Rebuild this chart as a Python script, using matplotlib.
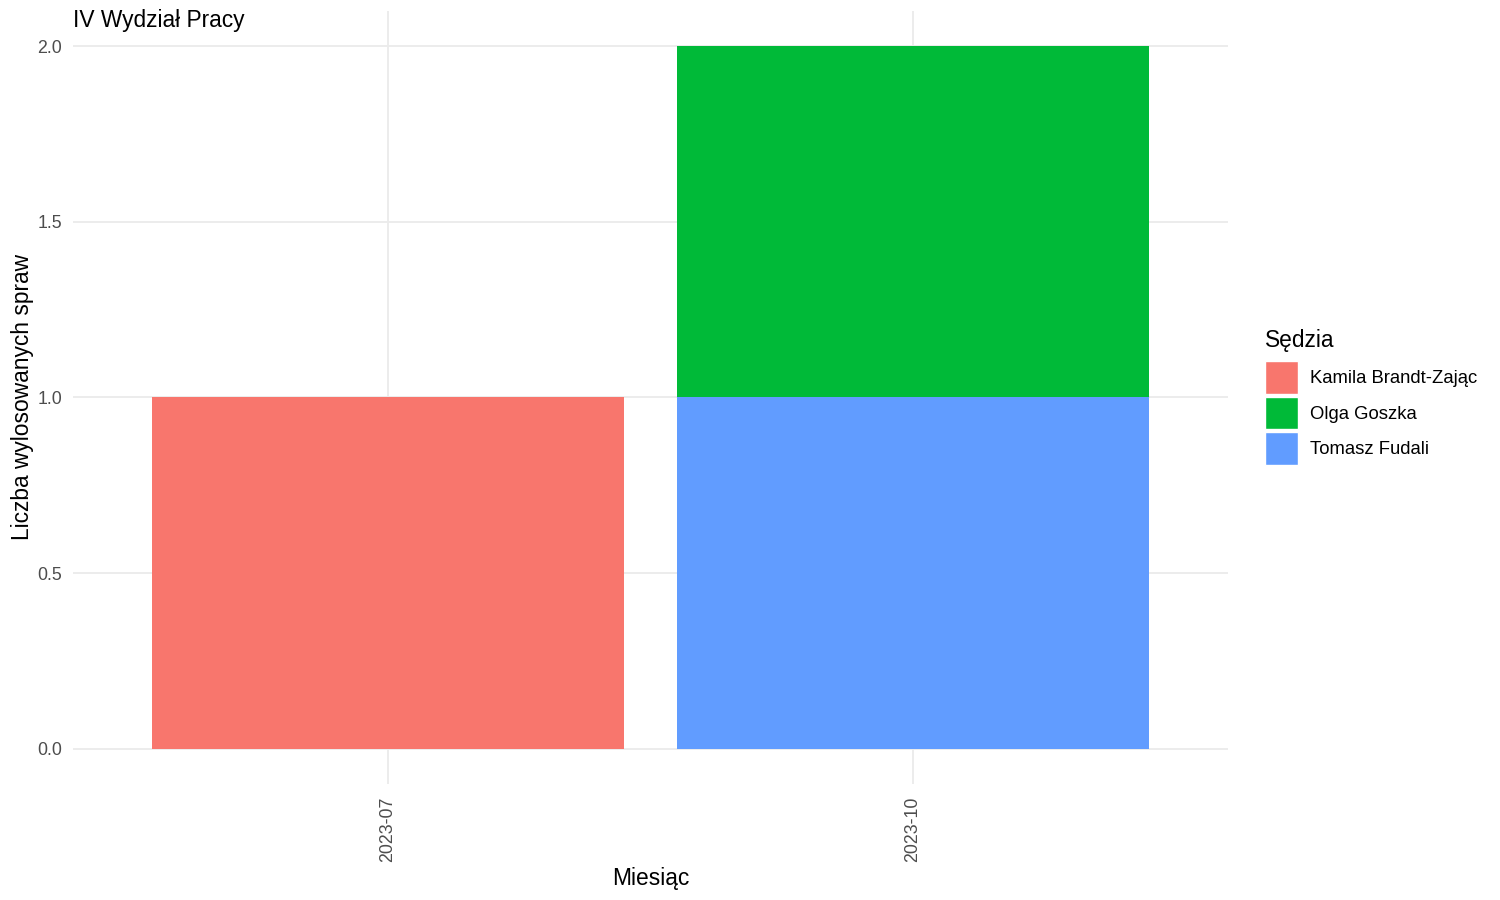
import matplotlib.pyplot as plt
from matplotlib.patches import Patch

plt.rcParams['font.family'] = ['Liberation Sans', 'DejaVu Sans']

months = ["2023-07", "2023-10"]
judges = ["Kamila Brandt-Zając", "Olga Goszka", "Tomasz Fudali"]
colors = ["#F8766D", "#00BA38", "#619CFF"]
# counts per judge per month
counts = {
    "Kamila Brandt-Zając": [1, 0],
    "Olga Goszka": [0, 1],
    "Tomasz Fudali": [0, 1],
}

fig = plt.figure(figsize=(15, 9), dpi=100)
ax = fig.add_axes([73 / 1500, 1 - 784 / 900, (1228 - 73) / 1500, (784 - 11) / 900])

x = list(range(len(months)))
bottom = [0] * len(months)
# ggplot stacks first level on top, so draw in reverse
for name, col in reversed(list(zip(judges, colors))):
    vals = counts[name]
    ax.bar(x, vals, width=0.9, bottom=bottom, color=col, zorder=3)
    bottom = [b + v for b, v in zip(bottom, vals)]

ax.set_xlim(-0.6, 1.6)
ax.set_ylim(-0.1, 2.1)
ax.set_xticks(x)
ax.set_xticklabels(months, rotation=90, va="top", ha="center")
ax.set_yticks([0, 0.5, 1, 1.5, 2])
ax.set_yticklabels(["0.0", "0.5", "1.0", "1.5", "2.0"])
ax.tick_params(length=0, labelsize=12.8, labelcolor="#4D4D4D")
ax.tick_params(axis="x", pad=9)
ax.tick_params(axis="y", pad=8)
ax.grid(True, color="#EBEBEB", linewidth=1.3, zorder=0)
for s in ax.spines.values():
    s.set_visible(False)

ax.set_xlabel("Miesiąc", fontsize=16.4, labelpad=4)
ax.set_ylabel("Liczba wylosowanych spraw", fontsize=16.4, labelpad=2.5)
fig.text(73 / 1500, 1 - 27 / 900, "IV Wydział Pracy", fontsize=16.4,
         va="baseline", ha="left")

fig.text(1265 / 1500, 1 - 340 / 900, "Sędzia", fontsize=16.4, va="center", ha="left")
handles = [Patch(facecolor=c, edgecolor="white", linewidth=1) for c in colors]
fig.legend(handles, judges, loc="upper left",
           bbox_to_anchor=(1265 / 1500, 1 - 361 / 900),
           fontsize=13.3, frameon=False, handlelength=1.76, handleheight=2.35,
           labelspacing=0.16, handletextpad=0.7, borderpad=0, borderaxespad=0)

fig.savefig("out.png", dpi=100)
